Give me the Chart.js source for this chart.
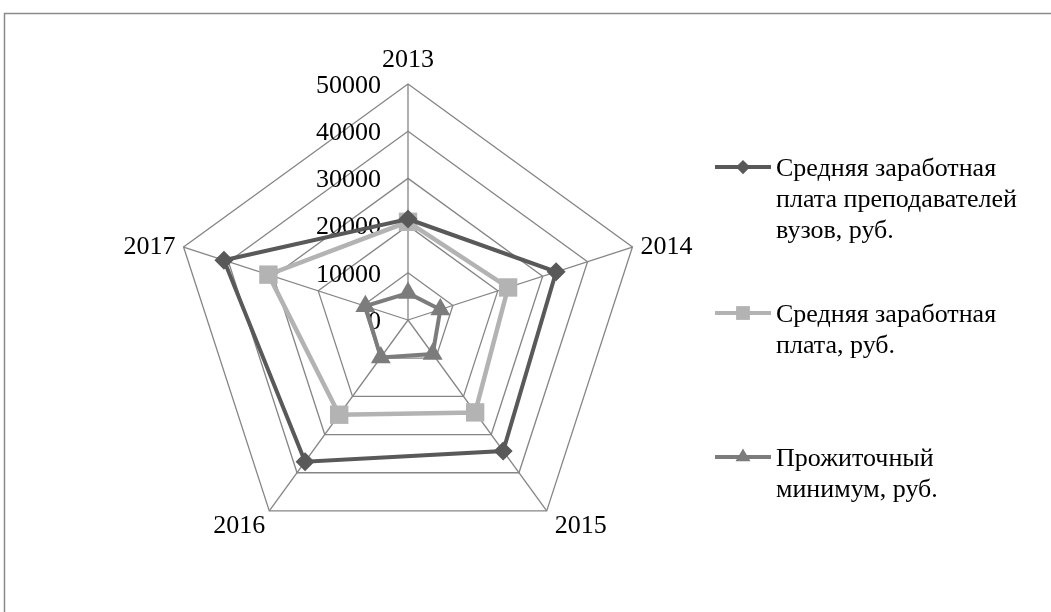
<!DOCTYPE html>
<html>
<head>
<meta charset="utf-8">
<script src="https://cdn.jsdelivr.net/npm/chart.js@4.4.1/dist/chart.umd.min.js"></script>
<style>
  html, body { margin: 0; padding: 0; background: #ffffff; }
  #wrap { width: 1051px; height: 612px; position: relative; }
</style>
</head>
<body>
<div id="wrap"><canvas id="c" width="1051" height="612"></canvas></div>
<script>
const years = ['2013', '2014', '2015', '2016', '2017'];
const teacherSalary = [21400, 33000, 34300, 37100, 41000];
const averageSalary = [20800, 22300, 24200, 24800, 31100];
const subsistenceMinimum = [5700, 7200, 8900, 9800, 9500];
const seriesNames = [
  ['Средняя заработная', 'плата преподавателей', 'вузов, руб.'],
  ['Средняя заработная', 'плата, руб.'],
  ['Прожиточный', 'минимум, руб.']
];
const axisMin = 0, axisMax = 50000, axisStep = 10000;

const FONT = '"Liberation Serif", "Times New Roman", serif';
const FS = 26;
const GRID = '#858585';
const COLORS = ['#595959', '#b3b3b3', '#7c7c7c'];
const STYLES = ['rectRot', 'rect', 'triangle'];
const RADII = [9.5, 13, 11.5];
const WIDTHS = [4, 4.5, 4];

const customPlugin = {
  id: 'custom',
  afterLayout(chart) {
    const s = chart.scales.r;
    s.xCenter = 408;
    s.yCenter = 320;
    s.drawingArea = 236;
  },
  beforeDraw(chart) {
    const ctx = chart.ctx;
    ctx.save();
    ctx.fillStyle = '#ffffff';
    ctx.fillRect(0, 0, chart.width, chart.height);
    ctx.strokeStyle = '#8a8a8a';
    ctx.lineWidth = 1.5;
    ctx.beginPath();
    ctx.moveTo(4.5, chart.height + 2);
    ctx.lineTo(4.5, 13.5);
    ctx.lineTo(chart.width + 2, 13.5);
    ctx.stroke();
    ctx.restore();
  },
  beforeDatasetsDraw(chart) {
    const ctx = chart.ctx;
    const s = chart.scales.r;
    ctx.save();
    ctx.fillStyle = '#000000';
    ctx.font = FS + 'px ' + FONT;
    ctx.textAlign = 'right';
    ctx.textBaseline = 'middle';
    s.ticks.forEach(t => {
      const d = s.getDistanceFromCenterForValue(t.value);
      ctx.fillText(String(t.value), s.xCenter - 27, s.yCenter - d + 2);
    });
    years.forEach((lab, i) => {
      const p = s.getPointPosition(i, s.drawingArea);
      if (i === 0) {
        ctx.textAlign = 'center'; ctx.textBaseline = 'alphabetic';
        ctx.fillText(lab, p.x, p.y - 17);
      } else if (i === 1) {
        ctx.textAlign = 'left'; ctx.textBaseline = 'middle';
        ctx.fillText(lab, p.x + 8, p.y);
      } else if (i === 2) {
        ctx.textAlign = 'left'; ctx.textBaseline = 'middle';
        ctx.fillText(lab, p.x + 8, p.y + 15);
      } else if (i === 3) {
        ctx.textAlign = 'right'; ctx.textBaseline = 'middle';
        ctx.fillText(lab, p.x - 4, p.y + 15);
      } else {
        ctx.textAlign = 'right'; ctx.textBaseline = 'middle';
        ctx.fillText(lab, p.x - 8, p.y);
      }
    });
    ctx.restore();
  },
  afterDraw(chart) {
    const ctx = chart.ctx;
    ctx.save();
    ctx.font = FS + 'px ' + FONT;
    ctx.textAlign = 'left';
    ctx.textBaseline = 'middle';
    const tops = [167, 313, 457];
    const lh = 31;
    seriesNames.forEach((lines, k) => {
      const y = tops[k];
      ctx.strokeStyle = COLORS[k];
      ctx.lineWidth = 4;
      ctx.beginPath();
      ctx.moveTo(715, y);
      ctx.lineTo(771, y);
      ctx.stroke();
      ctx.fillStyle = COLORS[k];
      Chart.helpers.drawPoint(ctx, {pointStyle: STYLES[k], radius: RADII[k] * 0.75, borderWidth: 0}, 743, y);
      ctx.fillStyle = '#000000';
      lines.forEach((ln, j) => ctx.fillText(ln, 776, y + 2 + j * lh));
    });
    ctx.restore();
  }
};

const series = [teacherSalary, averageSalary, subsistenceMinimum];
new Chart(document.getElementById('c'), {
  type: 'radar',
  data: {
    labels: years,
    datasets: series.map((d, k) => ({
      label: seriesNames[k].join(' '),
      data: d,
      borderColor: COLORS[k],
      backgroundColor: COLORS[k],
      pointBackgroundColor: COLORS[k],
      pointBorderColor: COLORS[k],
      pointBorderWidth: 0,
      pointStyle: STYLES[k],
      pointRadius: RADII[k],
      borderWidth: WIDTHS[k],
      fill: false,
      tension: 0
    }))
  },
  options: {
    responsive: false,
    devicePixelRatio: 1,
    animation: false,
    layout: { padding: 0 },
    plugins: { legend: { display: false }, tooltip: { enabled: false } },
    scales: {
      r: {
        min: axisMin,
        max: axisMax,
        ticks: { stepSize: axisStep, display: false },
        grid: { color: GRID, lineWidth: 1.3 },
        angleLines: { color: GRID, lineWidth: 1.3 },
        pointLabels: { display: false }
      }
    }
  },
  plugins: [customPlugin]
});
</script>
</body>
</html>
